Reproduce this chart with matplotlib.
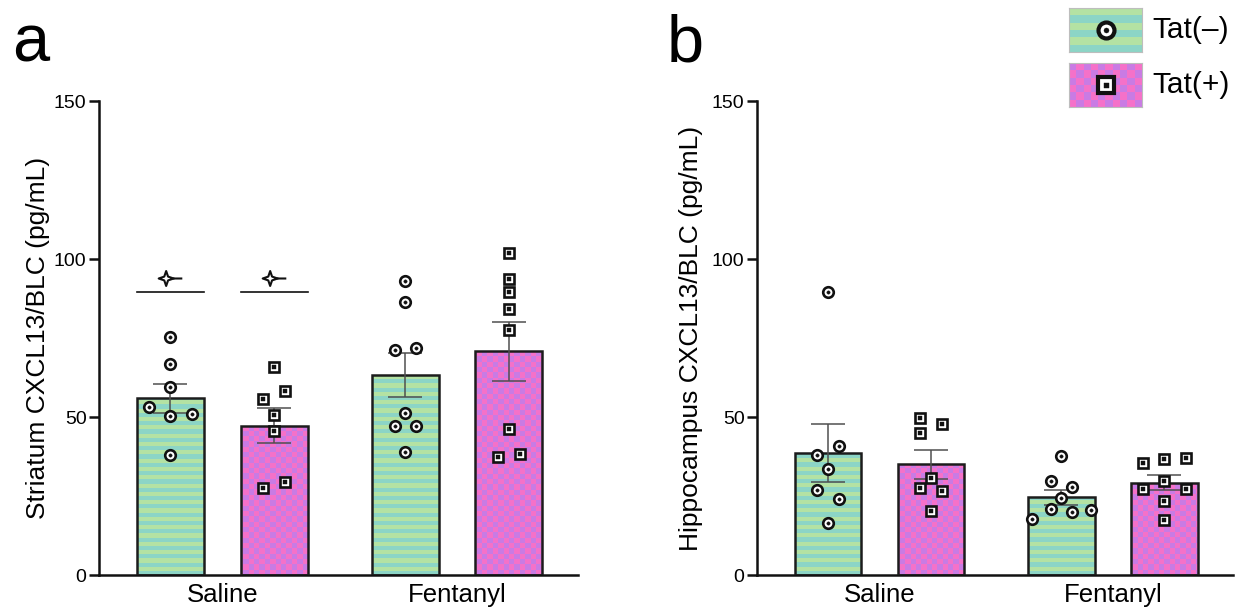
"""CXCL13/BLC in striatum and hippocampus, Tat(-) vs Tat(+), saline vs fentanyl."""
import numpy as np
import matplotlib
matplotlib.use("Agg")
import matplotlib.pyplot as plt
from matplotlib.colors import to_rgb
from matplotlib.path import Path

plt.rcParams["font.family"] = ["Liberation Sans", "DejaVu Sans"]

# ---- data ----
groups = ["Saline", "Fentanyl"]
series = ["Tat(\u2013)", "Tat(+)"]

# panel a: striatum
str_neg_mean = [56.0, 63.2]
str_neg_sem = [4.6, 7.0]
str_pos_mean = [47.3, 70.8]
str_pos_sem = [5.5, 9.3]
str_neg_sal = [75.3, 66.8, 59.5, 53.2, 50.3, 50.9, 38.0]
str_pos_sal = [65.8, 58.2, 55.7, 50.6, 45.6, 29.4, 27.5]
str_neg_fen = [93.0, 86.4, 71.8, 71.2, 51.3, 47.2, 47.2, 38.9]
str_pos_fen = [101.9, 93.7, 89.6, 84.2, 77.5, 46.2, 37.3, 38.3]
str_sig_line = 89.6   # bracket above saline bars
str_sig_mark = 93.9

# panel b: hippocampus
hip_neg_mean = [38.5, 24.6]
hip_neg_sem = [9.2, 2.4]
hip_pos_mean = [35.0, 29.2]
hip_pos_sem = [4.5, 2.4]
hip_neg_sal = [89.6, 40.8, 38.0, 33.5, 26.9, 24.1, 16.5]
hip_pos_sal = [49.7, 47.8, 44.8, 30.8, 27.4, 26.5, 20.2]
hip_neg_fen = [37.6, 29.7, 27.8, 24.4, 20.9, 19.9, 20.6, 17.7]
hip_pos_fen = [35.4, 36.7, 37.0, 29.7, 27.2, 27.2, 23.4, 17.4]

# horizontal scatter of the dots (in dot-widths)
jit_str_neg_sal = [0, 0, 0, -2, 0, 2, 0]
jit_str_pos_sal = [0, 1, -1, 0, 0, 1, -1]
jit_str_neg_fen = [0, 0, 1, -1, 0, -1, 1, 0]
jit_str_pos_fen = [0, 0, 0, 0, 0, 0, -1, 1]
jit_hip_neg_sal = [0, 1, -1, 0, -1, 1, 0]
jit_hip_pos_sal = [-1, 1, -1, 0, -1, 1, 0]
jit_hip_neg_fen = [0, -1, 1, 0, -1, 1, 2.8, -2.8]
jit_hip_pos_fen = [-2, 0, 2, 0, -2, 2, 0, 0]

# ---- style ----
GREEN, TEAL = to_rgb("#b4e2a3"), to_rgb("#8cd5c6")
PINK, LAV = to_rgb("#f571c9"), to_rgb("#c97be4")
EDGE = "#1c1c1c"
XLIM = (-0.525, 1.515)
YLIM = (0, 150)
BAR_OFF = 0.2205
BAR_W = 0.2854
JIT = 0.0456


def stripe_img(h_px, band):
    n = int(round(h_px / band))
    idx = np.arange(n) % 2
    return np.where(idx[:, None, None] == 0, np.array(TEAL), np.array(GREEN))


def checker_img(h_px, w_px, cell):
    ny, nx = int(round(h_px / cell)), int(round(w_px / cell))
    yy, xx = np.indices((ny, nx))
    m = (yy + xx) % 2
    return np.where(m[..., None] == 0, np.array(PINK), np.array(LAV))


def star_marker():
    ang = np.deg2rad(np.arange(0, 360, 45))
    rad = np.where(np.arange(8) % 2 == 0, 1.0, 0.36)
    pts = [(r * np.cos(a), r * np.sin(a)) for r, a in zip(rad, ang)]
    verts = pts + [pts[0], (1.0, 0.0), (2.16, 0.0)]
    codes = ([Path.MOVETO] + [Path.LINETO] * 7 + [Path.CLOSEPOLY]
             + [Path.MOVETO, Path.LINETO])
    verts = [(x - 0.58, y) for x, y in verts]
    return Path(verts, codes)


def draw_panel(ax, ax_px, neg_mean, neg_sem, pos_mean, pos_sem,
               neg_pts, neg_jit, pos_pts, pos_jit):
    w_px, h_px = ax_px
    for i in range(len(groups)):
        for kind, mean, sem, pts, jit in (
                ("neg", neg_mean[i], neg_sem[i], neg_pts[i], neg_jit[i]),
                ("pos", pos_mean[i], pos_sem[i], pos_pts[i], pos_jit[i])):
            x = i - BAR_OFF if kind == "neg" else i + BAR_OFF
            bar = ax.bar(x, mean, BAR_W, facecolor="none", edgecolor=EDGE,
                         linewidth=1.8, zorder=3)[0]
            if kind == "neg":
                img = stripe_img(h_px, 4.15)
            else:
                img = checker_img(h_px, w_px, 5.3)
            im = ax.imshow(img, extent=(*XLIM, *YLIM), origin="lower",
                           aspect="auto", interpolation="nearest", zorder=2)
            im.set_clip_path(bar)
            ax.errorbar(x, mean, yerr=sem, fmt="none", ecolor="#4f4f4f",
                        elinewidth=1.1, capsize=12, capthick=1.1, zorder=4)
            xs = x + np.array(jit) * JIT
            mk = "o" if kind == "neg" else "s"
            ms = 7.6 if kind == "neg" else 7.2
            ax.plot(xs, pts, ls="none", marker=mk, ms=ms, mfc="white",
                    mec="#111111", mew=1.9, zorder=5)
            ax.plot(xs, pts, ls="none", marker=mk, ms=2.4, mfc="#111111",
                    mec="#111111", mew=0.3, zorder=6)

    ax.set_xlim(*XLIM)
    ax.set_ylim(*YLIM)
    ax.set_xticks(range(len(groups)))
    ax.set_xticklabels(groups)
    ax.set_yticks([0, 50, 100, 150])
    for s in ("top", "right"):
        ax.spines[s].set_visible(False)
    for s in ("left", "bottom"):
        ax.spines[s].set_linewidth(1.8)
        ax.spines[s].set_color("#111111")
    ax.tick_params(axis="x", length=0, labelsize=18.5, pad=6)
    ax.tick_params(axis="y", length=7, width=1.8, labelsize=14, pad=2,
                   color="#111111")


fig = plt.figure(figsize=(12.51, 6.13), dpi=100)
FW, FH = 1251, 613

ax_a = fig.add_axes([99 / FW, 38 / FH, 479 / FW, 474 / FH])
ax_b = fig.add_axes([757 / FW, 38 / FH, 476 / FW, 474 / FH])

draw_panel(ax_a, (479, 474), str_neg_mean, str_neg_sem, str_pos_mean, str_pos_sem,
           [str_neg_sal, str_neg_fen], [jit_str_neg_sal, jit_str_neg_fen],
           [str_pos_sal, str_pos_fen], [jit_str_pos_sal, jit_str_pos_fen])
draw_panel(ax_b, (476, 474), hip_neg_mean, hip_neg_sem, hip_pos_mean, hip_pos_sem,
           [hip_neg_sal, hip_neg_fen], [jit_hip_neg_sal, jit_hip_neg_fen],
           [hip_pos_sal, hip_pos_fen], [jit_hip_pos_sal, jit_hip_pos_fen])

# significance marks over the saline bars in panel a
star = star_marker()
for x in (-BAR_OFF, BAR_OFF):
    ax_a.plot([x - BAR_W / 2, x + BAR_W / 2], [str_sig_line] * 2,
              color="#111111", lw=1.2, zorder=4)
    ax_a.plot(x, str_sig_mark, ls="none", marker=star, ms=17, mfc="white",
              mec="#111111", mew=1.5, zorder=4)

ax_a.set_ylabel("Striatum CXCL13/BLC (pg/mL)", fontsize=19)
ax_a.yaxis.set_label_coords(-0.102, 0.5)
ax_b.set_ylabel("Hippocampus CXCL13/BLC (pg/mL)", fontsize=19)
ax_b.yaxis.set_label_coords(-0.113, 0.5)

fig.text(12 / FW, 1 - 62 / FH, "a", fontsize=48, va="baseline")
fig.text(667 / FW, 1 - 62 / FH, "b", fontsize=48, va="baseline")

# legend built from small swatch axes
for j, (name, top) in enumerate(zip(series, (8, 63))):
    lax = fig.add_axes([1069 / FW, 1 - (top + 44) / FH, 73 / FW, 44 / FH])
    if j == 0:
        img = stripe_img(44, 7.3)
        mk, ms = "o", 11.5
    else:
        img = checker_img(44, 73, 7.3)
        mk, ms = "s", 11.0
    lax.imshow(img, extent=(0, 1, 0, 1), origin="lower", aspect="auto",
               interpolation="nearest")
    lax.plot(0.5, 0.5, ls="none", marker=mk, ms=ms, mfc="white",
             mec="#111111", mew=3.0)
    lax.plot(0.5, 0.5, ls="none", marker=mk, ms=3.6, mfc="#111111",
             mec="#111111", mew=0.3)
    lax.set_xlim(0, 1)
    lax.set_ylim(0, 1)
    lax.set_xticks([])
    lax.set_yticks([])
    for s in lax.spines.values():
        s.set_color("#bdbdbd")
        s.set_linewidth(0.8)
    fig.text(1152 / FW, 1 - (top + 22) / FH, name, fontsize=21.5, va="center")

fig.savefig("out.png", dpi=100)
